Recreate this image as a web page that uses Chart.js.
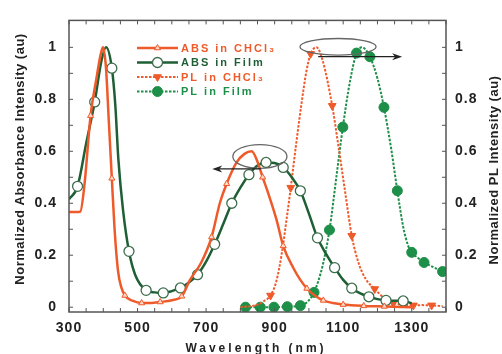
<!DOCTYPE html>
<html>
<head>
<meta charset="utf-8">
<script src="https://cdn.jsdelivr.net/npm/chart.js@4.4.1/dist/chart.umd.min.js"></script>
<style>
  html, body { margin: 0; padding: 0; background: #fff; }
</style>
</head>
<body>
<canvas id="chart" width="502" height="354"></canvas>
<script>
// Dữ liệu (bước sóng nm, cường độ chuẩn hoá)
const seriesNames = ["ABS in CHCl\u2083", "ABS in Film", "PL in CHCl\u2083", "PL in Film"];

const absChclX = [300, 320, 333, 345, 363, 380, 392, 399, 408, 416, 425, 433, 443, 453, 463, 485, 512, 540, 566, 600, 629, 653, 685, 716, 740, 760, 789, 812, 833, 850, 865, 877, 906, 925, 955, 975, 994, 1020, 1042, 1070, 1100, 1160, 1220, 1300];
const absChclY = [0.366, 0.366, 0.368, 0.47, 0.737, 0.88, 0.97, 1.0, 0.92, 0.72, 0.496, 0.30, 0.14, 0.075, 0.045, 0.025, 0.016, 0.016, 0.02, 0.027, 0.042, 0.105, 0.17, 0.27, 0.40, 0.475, 0.557, 0.59, 0.60, 0.56, 0.50, 0.455, 0.334, 0.236, 0.15, 0.105, 0.072, 0.042, 0.026, 0.016, 0.01, 0.005, 0.003, 0.0];
const absChclMark = [0, 0, 0, 0, 1, 0, 0, 0, 0, 0, 1, 0, 0, 0, 1, 0, 1, 0, 1, 0, 1, 0, 0, 1, 0, 1, 0, 0, 0, 0, 1, 0, 0, 1, 0, 0, 1, 0, 1, 0, 1, 1, 1, 0];

const absFilmX = [300, 325, 350, 375, 395, 408, 425, 435, 444, 458, 475, 493, 525, 550, 575, 600, 625, 650, 675, 700, 725, 750, 775, 800, 825, 850, 875, 900, 925, 950, 975, 1000, 1025, 1050, 1075, 1100, 1125, 1150, 1175, 1200, 1225, 1250, 1275, 1300];
const absFilmY = [0.415, 0.465, 0.63, 0.79, 0.95, 1.0, 0.92, 0.78, 0.57, 0.37, 0.215, 0.125, 0.065, 0.057, 0.055, 0.062, 0.074, 0.095, 0.125, 0.175, 0.242, 0.32, 0.40, 0.46, 0.51, 0.545, 0.557, 0.555, 0.538, 0.50, 0.448, 0.36, 0.267, 0.205, 0.152, 0.105, 0.073, 0.053, 0.04, 0.031, 0.026, 0.025, 0.024, 0.015];
const absFilmMark = [0, 1, 0, 1, 0, 0, 1, 0, 0, 0, 1, 0, 1, 0, 1, 0, 1, 0, 1, 0, 1, 0, 1, 0, 1, 0, 1, 0, 1, 0, 1, 0, 1, 0, 1, 0, 1, 0, 1, 0, 1, 0, 1, 0];

const plChclX = [800, 850, 870, 888, 905, 920, 935, 947, 962, 978, 993, 1005, 1022, 1040, 1068, 1085, 1105, 1125, 1145, 1165, 1192, 1220, 1246, 1275, 1305, 1330, 1358, 1390];
const plChclY = [0.0, 0.01, 0.025, 0.045, 0.10, 0.2, 0.34, 0.46, 0.62, 0.78, 0.91, 0.975, 1.0, 0.95, 0.775, 0.63, 0.45, 0.275, 0.17, 0.11, 0.07, 0.035, 0.016, 0.01, 0.007, 0.008, 0.007, 0.004];
const plChclMark = [0, 0, 0, 1, 0, 0, 0, 1, 0, 0, 0, 1, 0, 0, 1, 0, 0, 1, 0, 0, 1, 0, 1, 0, 1, 0, 1, 0];

const plFilmX = [815, 858, 898, 937, 975, 995, 1015, 1040, 1060, 1080, 1099, 1120, 1139, 1155, 1178, 1200, 1219, 1240, 1258, 1275, 1290, 1300, 1318, 1336, 1362, 1390];
const plFilmY = [0.0, 0.0, 0.0, 0.002, 0.006, 0.02, 0.057, 0.16, 0.297, 0.50, 0.693, 0.87, 0.978, 1.0, 0.964, 0.88, 0.769, 0.61, 0.448, 0.31, 0.235, 0.211, 0.19, 0.172, 0.155, 0.137];
const plFilmMark = [1, 1, 1, 1, 1, 0, 1, 0, 1, 0, 1, 0, 1, 0, 1, 0, 1, 0, 1, 0, 0, 1, 0, 1, 0, 1];

// Nhãn trục
const xTickLabels = [300, 500, 700, 900, 1100, 1300];
const yTickLabels = [0, 0.2, 0.4, 0.6, 0.8, 1];

const orange = "#ef5a2a";
const darkGreen = "#1f5f35";
const green = "#1e8f48";
const fontFam = "'Liberation Sans', Arial, sans-serif";

function toPoints(xs, ys) {
  return xs.map((x, i) => ({ x: x, y: ys[i] }));
}

function markRadius(marks, r) {
  return (ctx) => (marks[ctx.dataIndex] ? r : 0);
}

// Chữ có giãn cách cho nhãn trục
const spacingPlugin = {
  id: "spacing",
  beforeDraw(chart) {
    chart.ctx.letterSpacing = "1px";
  },
  beforeDatasetsDraw(chart) {
    chart.ctx.letterSpacing = "0px";
  },
};

// Khung và vạch chia hướng vào trong
const framePlugin = {
  id: "frame",
  afterDatasetsDraw(chart) {
    const { ctx, chartArea: a, scales } = chart;
    ctx.save();
    ctx.strokeStyle = "#555";
    ctx.lineWidth = 1.5;
    ctx.strokeRect(a.left, a.top, a.right - a.left, a.bottom - a.top);
    ctx.lineWidth = 1;
    ctx.beginPath();
    for (let v = 300; v <= 1400; v += 50) {
      const px = scales.x.getPixelForValue(v);
      ctx.moveTo(px, a.bottom);
      ctx.lineTo(px, a.bottom - 4);
      ctx.moveTo(px, a.top);
      ctx.lineTo(px, a.top + 4);
    }
    for (let i = 0; i <= 10; i++) {
      const py = scales.y.getPixelForValue(i / 10);
      ctx.moveTo(a.left, py);
      ctx.lineTo(a.left + 4, py);
      ctx.moveTo(a.right, py);
      ctx.lineTo(a.right - 4, py);
    }
    ctx.stroke();
    ctx.restore();
  },
};

// Vòng elip và mũi tên chỉ trục
function drawArrow(ctx, x1, y, x2) {
  const dir = Math.sign(x2 - x1);
  ctx.beginPath();
  ctx.moveTo(x1, y);
  ctx.lineTo(x2 - dir * 6, y);
  ctx.stroke();
  ctx.beginPath();
  ctx.moveTo(x2, y);
  ctx.lineTo(x2 - dir * 10, y - 3.5);
  ctx.lineTo(x2 - dir * 7, y);
  ctx.lineTo(x2 - dir * 10, y + 3.5);
  ctx.closePath();
  ctx.fill();
}

const annotatePlugin = {
  id: "annotate",
  afterDatasetsDraw(chart) {
    const { ctx, scales } = chart;
    const sx = scales.x, sy = scales.y;
    ctx.save();
    ctx.strokeStyle = "#666";
    ctx.lineWidth = 1.3;
    // elip quanh đỉnh hấp thụ
    let cx = sx.getPixelForValue(857), cy = sy.getPixelForValue(0.58);
    let rx = sx.getPixelForValue(857 + 79) - cx, ry = cy - sy.getPixelForValue(0.58 + 0.046);
    ctx.beginPath();
    ctx.ellipse(cx, cy, rx, ry, 0, 0, Math.PI * 2);
    ctx.stroke();
    // elip quanh đỉnh phát quang
    cx = sx.getPixelForValue(1085); cy = sy.getPixelForValue(1.002);
    rx = sx.getPixelForValue(1085 + 111) - cx; ry = cy - sy.getPixelForValue(1.002 + 0.032);
    ctx.beginPath();
    ctx.ellipse(cx, cy, rx, ry, 0, 0, Math.PI * 2);
    ctx.stroke();
    ctx.strokeStyle = "#222";
    ctx.fillStyle = "#222";
    ctx.lineWidth = 1.2;
    drawArrow(ctx, sx.getPixelForValue(860), sy.getPixelForValue(0.532), sx.getPixelForValue(718));
    drawArrow(ctx, sx.getPixelForValue(1027), sy.getPixelForValue(0.964), sx.getPixelForValue(1272));
    ctx.restore();
  },
};

// Chú thích tự vẽ (đường + ký hiệu ở giữa)
const legendPlugin = {
  id: "customLegend",
  afterDatasetsDraw(chart) {
    const ctx = chart.ctx;
    const rows = [48, 62.5, 77, 91.5];
    ctx.save();
    chart.data.datasets.forEach((ds, i) => {
      const y = rows[i];
      ctx.strokeStyle = ds.borderColor;
      ctx.lineWidth = ds.borderWidth;
      ctx.setLineDash(ds.borderDash || []);
      ctx.beginPath();
      ctx.moveTo(137, y);
      ctx.lineTo(178, y);
      ctx.stroke();
      ctx.setLineDash([]);
      ctx.fillStyle = ds.pointBackgroundColor;
      ctx.strokeStyle = ds.pointBorderColor;
      ctx.lineWidth = ds.pointBorderWidth;
      Chart.helpers.drawPoint(ctx, {
        pointStyle: ds.pointStyle,
        radius: ds.legendRadius,
        rotation: ds.pointRotation || 0,
        borderWidth: ds.pointBorderWidth,
      }, 157.5, y);
      ctx.fillStyle = ds.textColor;
      ctx.font = "bold 11px " + fontFam;
      ctx.letterSpacing = "2px";
      ctx.textBaseline = "middle";
      ctx.textAlign = "left";
      ctx.fillText(ds.label, 181, y + 0.5);
    });
    ctx.restore();
  },
};

// Tiêu đề trục
const titlePlugin = {
  id: "titles",
  afterDraw(chart) {
    const ctx = chart.ctx;
    ctx.save();
    ctx.fillStyle = "#222";
    ctx.textAlign = "center";
    ctx.textBaseline = "middle";
    ctx.font = "bold 12px " + fontFam;
    ctx.letterSpacing = "3px";
    ctx.fillText("Wavelength (nm)", 256, 348.5);
    ctx.font = "bold 13px " + fontFam;
    ctx.letterSpacing = "0.5px";
    ctx.save();
    ctx.translate(20.5, 159);
    ctx.rotate(-Math.PI / 2);
    ctx.fillText("Normalized Absorbance Intensity (au)", 0, 0);
    ctx.restore();
    ctx.save();
    ctx.translate(494, 170);
    ctx.rotate(-Math.PI / 2);
    ctx.fillText("Normalized PL Intensity (au)", 0, 0);
    ctx.restore();
    ctx.restore();
  },
};

const tickFont = { family: fontFam, weight: "bold", size: 14 };
const noGrid = { display: false, drawTicks: false };

const ctx = document.getElementById("chart").getContext("2d");
const chart = new Chart(ctx, {
  type: "line",
  data: {
    datasets: [
      {
        label: seriesNames[0],
        data: toPoints(absChclX, absChclY),
        borderColor: orange,
        borderWidth: 2.5,
        pointStyle: "triangle",
        pointRadius: markRadius(absChclMark, 3.5),
        legendRadius: 3.5,
        pointBackgroundColor: "#fbd9c8",
        pointBorderColor: orange,
        pointBorderWidth: 1,
        textColor: orange,
        cubicInterpolationMode: "monotone",
        yAxisID: "y",
      },
      {
        label: seriesNames[1],
        data: toPoints(absFilmX, absFilmY),
        borderColor: darkGreen,
        borderWidth: 2.5,
        pointStyle: "circle",
        pointRadius: markRadius(absFilmMark, 5),
        legendRadius: 5,
        pointBackgroundColor: "#ffffff",
        pointBorderColor: "#3d6e4c",
        pointBorderWidth: 1.3,
        textColor: darkGreen,
        cubicInterpolationMode: "monotone",
        yAxisID: "y",
      },
      {
        label: seriesNames[2],
        data: toPoints(plChclX, plChclY),
        borderColor: orange,
        borderWidth: 2,
        borderDash: [2.5, 1.5],
        pointStyle: "triangle",
        pointRotation: 180,
        pointRadius: markRadius(plChclMark, 4.5),
        legendRadius: 4.5,
        pointBackgroundColor: orange,
        pointBorderColor: orange,
        pointBorderWidth: 1,
        textColor: orange,
        cubicInterpolationMode: "monotone",
        yAxisID: "y2",
      },
      {
        label: seriesNames[3],
        data: toPoints(plFilmX, plFilmY),
        borderColor: green,
        borderWidth: 2,
        borderDash: [2.5, 1.5],
        pointStyle: "circle",
        pointRadius: markRadius(plFilmMark, 5),
        legendRadius: 5,
        pointBackgroundColor: green,
        pointBorderColor: green,
        pointBorderWidth: 1,
        textColor: green,
        cubicInterpolationMode: "monotone",
        yAxisID: "y2",
      },
    ],
  },
  options: {
    responsive: false,
    animation: false,
    devicePixelRatio: 1,
    layout: { padding: { top: 9, left: 0, right: 0, bottom: 0 } },
    plugins: {
      legend: { display: false },
      tooltip: { enabled: false },
    },
    scales: {
      x: {
        type: "linear",
        min: 300,
        max: 1400,
        grid: noGrid,
        border: { display: false },
        afterBuildTicks: (s) => { s.ticks = xTickLabels.map((v) => ({ value: v })); },
        afterFit: (s) => { s.height = 42; },
        ticks: { font: tickFont, color: "#222", padding: 8, maxRotation: 0, autoSkip: false, callback: (v) => String(v) },
      },
      y: {
        position: "left",
        min: -0.0185,
        max: 1.1037,
        grid: noGrid,
        border: { display: false },
        afterBuildTicks: (s) => { s.ticks = yTickLabels.map((v) => ({ value: v })); },
        afterFit: (s) => { s.width = 69; },
        ticks: { font: tickFont, color: "#222", padding: 12, callback: (v) => String(v) },
      },
      y2: {
        position: "right",
        min: -0.0185,
        max: 1.1037,
        grid: noGrid,
        border: { display: false },
        afterBuildTicks: (s) => { s.ticks = yTickLabels.map((v) => ({ value: v })); },
        afterFit: (s) => { s.width = 56; },
        ticks: { font: tickFont, color: "#222", padding: 9, callback: (v) => String(v) },
      },
    },
  },
  plugins: [spacingPlugin, framePlugin, annotatePlugin, legendPlugin, titlePlugin],
});
</script>
</body>
</html>
